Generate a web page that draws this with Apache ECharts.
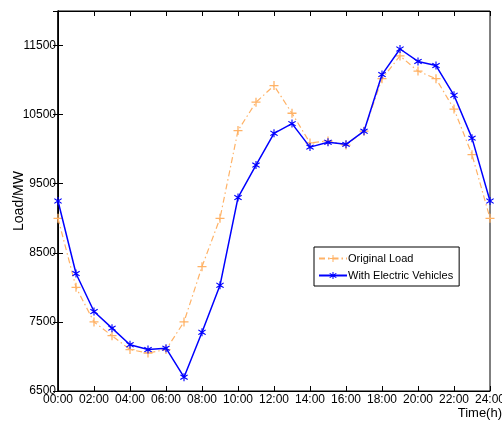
<!DOCTYPE html>
<html>
<head>
<meta charset="utf-8">
<script src="https://cdn.jsdelivr.net/npm/echarts@6/dist/echarts.min.js"></script>
<style>html,body{margin:0;padding:0;background:#fff}#c{width:502px;height:423px}</style>
</head>
<body>
<div id="c"></div>
<script>
var hours = [0,1,2,3,4,5,6,7,8,9,10,11,12,13,14,15,16,17,18,19,20,21,22,23,24];
var originalLoad = [9000,8000,7500,7300,7100,7050,7100,7500,8300,9000,10270,10680,10920,10520,10090,10120,10060,10260,11020,11350,11130,11020,10580,9920,9000];
var withEV = [9250,8200,7650,7410,7170,7100,7120,6700,7350,8030,9300,9770,10230,10370,10030,10100,10070,10260,11080,11450,11270,11210,10780,10160,9250];
var yTicks = [6500,7500,8500,9500,10500,11500];
var seriesNames = ['Original Load','With Electric Vehicles'];

var FONT = "'Liberation Sans',Arial,sans-serif";
function pairs(vals){ return hours.map(function(h,i){ return [h, vals[i]]; }); }
function hh(v){ return (v<10?'0':'') + v + ':00'; }

var plusPath = 'path://M4.3,0H5.7V4.3H10V5.7H5.7V10H4.3V5.7H0V4.3H4.3Z';
var starPath = 'path://M4.4,0H5.6V3.6L8.6,1.6L9.3,2.6L6.2,5L9.3,7.4L8.6,8.4L5.6,6.4V10H4.4V6.4L1.4,8.4L0.7,7.4L3.8,5L0.7,2.6L1.4,1.6L4.4,3.6Z';

var chart = echarts.init(document.getElementById('c'), null, {renderer:'canvas'});
chart.setOption({
  animation:false,
  backgroundColor:'#fff',
  textStyle:{fontFamily:FONT},
  grid:{left:58,right:12,top:11,bottom:32,outerBoundsMode:'none',containLabel:false,
        show:true,borderColor:'#000',borderWidth:1,backgroundColor:'transparent'},
  legend:{
    orient:'vertical', left:314, top:247,
    padding:[6,6,5,4], itemGap:6, itemWidth:28, itemHeight:9,
    backgroundColor:'#fff', borderColor:'#000', borderWidth:1,
    textStyle:{fontFamily:FONT, fontSize:11, color:'#000', padding:[0,0,0,-4]},
    data:seriesNames
  },
  xAxis:[{
    type:'value', min:0, max:24, interval:2,
    name:'Time(h)', nameLocation:'end', nameGap:12, nameMoveOverlap:false,
    nameTextStyle:{fontFamily:FONT, fontSize:13, color:'#000', align:'right', verticalAlign:'top', padding:[16,0,0,0]},
    axisLine:{show:true, lineStyle:{color:'#000', width:1}},
    axisTick:{show:true, inside:true, length:5, lineStyle:{color:'#000'}},
    axisLabel:{formatter:hh, color:'#000', fontFamily:FONT, fontSize:12, margin:3,
      showMinLabel:true, showMaxLabel:true, hideOverlap:false},
    splitLine:{show:false}
  },{
    type:'value', min:0, max:24, interval:2, position:'top',
    axisLine:{show:true, lineStyle:{color:'#000'}},
    axisTick:{show:true, inside:true, length:5, lineStyle:{color:'#000'}},
    axisLabel:{show:false}, splitLine:{show:false}
  }],
  yAxis:[{
    type:'value', min:6500, max:12000, interval:1000,
    name:'Load/MW', nameLocation:'middle', nameGap:32, nameMoveOverlap:false,
    nameTextStyle:{fontFamily:FONT, fontSize:14, color:'#000'},
    axisLine:{show:true, lineStyle:{color:'#000'}},
    axisTick:{show:true, inside:true, length:5, lineStyle:{color:'#000'}},
    axisLabel:{color:'#000', fontFamily:FONT, fontSize:12, margin:2,
      showMinLabel:true, hideOverlap:false,
      formatter:function(v){ return yTicks.indexOf(v)>=0 ? String(v) : ''; }},
    splitLine:{show:false}
  },{
    type:'value', min:6500, max:12000, interval:1000, position:'right',
    axisLine:{show:true, lineStyle:{color:'#000', width:1.5}},
    axisTick:{show:true, inside:true, length:5, lineStyle:{color:'#000'}},
    axisLabel:{show:false}, splitLine:{show:false}
  }],
  series:[{
    name:seriesNames[0], type:'line', data:pairs(originalLoad),
    symbol:plusPath, symbolSize:9, showSymbol:true,
    itemStyle:{color:'#FFB266'},
    lineStyle:{color:'#FFB266', width:1.2, type:[6,3,1.5,3]},
    z:2
  },{
    name:seriesNames[1], type:'line', data:pairs(withEV),
    symbol:starPath, symbolSize:8, showSymbol:true,
    itemStyle:{color:'#0000FF'},
    lineStyle:{color:'#0000FF', width:1.5},
    z:3
  }]
});
</script>
</body>
</html>
